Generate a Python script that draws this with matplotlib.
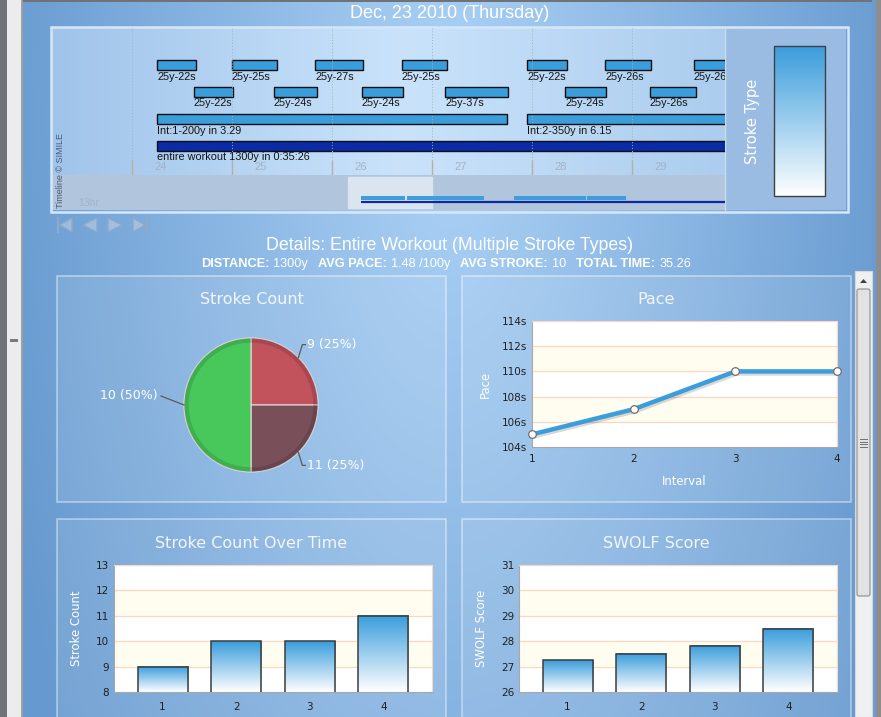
import numpy as np
import matplotlib
matplotlib.use("Agg")
import matplotlib.pyplot as plt
import matplotlib.patheffects as pe
from matplotlib.patches import Rectangle, Polygon, Wedge, FancyBboxPatch

W, H = 881, 717

# ---- data ----
title_date = "Dec, 23 2010 (Thursday)"
details_title = "Details: Entire Workout (Multiple Stroke Types)"
distance_y = 1300
avg_pace = "1.48"
avg_stroke = 10
total_time = "35.26"

# timeline, in minutes
tl_ticks = [24, 25, 26, 27, 28, 29]
lap1_start = [24.25, 25.00, 25.83, 26.70, 27.95, 28.73, 29.62]
lap1_end = [24.64, 25.45, 26.31, 27.15, 28.35, 29.19, 30.08]
lap1_label = ["25y-22s", "25y-25s", "25y-27s", "25y-25s", "25y-22s", "25y-26s", "25y-26s"]
lap2_start = [24.62, 25.42, 26.30, 27.13, 28.33, 29.18]
lap2_end = [25.01, 25.85, 26.71, 27.76, 28.74, 29.64]
lap2_label = ["25y-22s", "25y-24s", "25y-24s", "25y-37s", "25y-24s", "25y-26s"]
int_start = [24.25, 27.95, 36.50, 42.35]
int_end = [27.75, 34.10, 42.25, 45.45]
int_label = ["Int:1-200y in 3.29", "Int:2-350y in 6.15"]
workout_start, workout_end = 24.25, 59.68
workout_label = "entire workout 1300y in 0:35:26"

intervals = [1, 2, 3, 4]
stroke_count = [9, 10, 10, 11]
pace_sec = [105, 107, 110, 110]
swolf = [27.25, 27.5, 27.83, 28.5]
pie_values = [9, 11, 10]          # clockwise from 12 o'clock
pie_colors = ["#c2525c", "#79505a", "#48c85a"]

BLUE = "#3a9ddc"
DARK = "#0b2aa6"
SANS = "Liberation Sans"

fig = plt.figure(figsize=(W / 100, H / 100), dpi=100)


def px_axes(x0, y0, x1, y1):
    return fig.add_axes([x0 / W, 1 - y1 / H, (x1 - x0) / W, (y1 - y0) / H])


bg = px_axes(0, 0, W, H)
bg.set_axis_off()


def rect(x0, y0, x1, y1, **kw):
    bg.add_patch(Rectangle((x0, y0), x1 - x0, y1 - y0, **kw))


# page background
yy, xx = np.mgrid[0:H, 0:W]
t = np.sqrt(((xx - 450) / 470.0) ** 2 + ((yy - 120) / 1100.0) ** 2)
t = np.clip(t, 0, 1)[..., None]
light = np.array([172, 210, 246]) / 255
dark = np.array([102, 153, 207]) / 255
bg.imshow(light + (dark - light) * t, extent=(0, W, H, 0), aspect="auto", zorder=0)

# browser chrome
rect(0, 0, W, 2, fc="#6f7377", ec="none")
rect(0, 0, 7, H, fc="#707378", ec="none")
rect(7, 0, 21, H, fc="#ececec", ec="none")
rect(21, 0, 23, H, fc="#a0a0a0", ec="none")
rect(10, 339, 18, 342, fc="#7a7a7a", ec="none")
rect(872, 0, 876, H, fc="#6a9bd0", ec="none")
rect(876, 0, W, H, fc="#8d8d8d", ec="none")
rect(855, 271, 872, H, fc="#f0f0f0", ec="#d8d8d8", lw=0.8)
bg.add_patch(Polygon([(860, 283), (867, 283), (863.5, 279)], fc="#404040", ec="none"))
bg.add_patch(FancyBboxPatch((857, 289), 13, 307, boxstyle="round,pad=0,rounding_size=2",
                            fc="#e2e2e2", ec="#8c8c8c", lw=0.8))
for gy in [439, 441.5, 444, 446.5]:
    bg.plot([860, 867], [gy, gy], color="#707070", lw=0.7)

# header
bg.text(450, 14, title_date, fontsize=13, family=SANS, color="white", ha="center", va="center")

# ---- timeline ----
gx = np.linspace(0, 1, 300)
c_l, c_m, c_r = np.array([160, 196, 234]), np.array([202, 227, 251]), np.array([172, 205, 238])
grad_h = np.where(gx[:, None] < 0.52,
                  c_l + (c_m - c_l) * (gx[:, None] / 0.52),
                  c_m + (c_r - c_m) * ((gx[:, None] - 0.52) / 0.48)) / 255
bg.imshow(grad_h[None, :, :], extent=(52, 725, 175, 28), aspect="auto", zorder=1)
rect(52, 175, 725, 210, fc="#b1c5dc", ec="none", zorder=1)
rect(725, 28, 846, 210, fc="#9bbce2", ec="none", zorder=1)
bg.plot([725, 725], [28, 210], color="#c8dcf0", lw=1, zorder=2)
rect(51, 27, 848, 212, fc="none", ec="#d6e7f8", lw=1.8, zorder=3)

bg.text(752, 121, "Stroke Type", rotation=90, fontsize=10.5, color="white",
        ha="center", va="center", zorder=3)
grad_v = (np.array([58, 157, 220]) + (np.array([255, 255, 255]) - np.array([58, 157, 220]))
          * np.linspace(0, 1, 200)[:, None]) / 255
bg.imshow(grad_v[:, None, :], extent=(774, 825, 196, 46), aspect="auto", zorder=3)
rect(774, 46, 825, 196, fc="none", ec="#404040", lw=1, zorder=4)

bg.text(60.5, 170, "Timeline \u00a9 SIMILE", rotation=90, fontsize=6.5, family=SANS,
        color="#4a5a7a", ha="center", va="center", zorder=3)
bg.text(78, 203, "13hr", fontsize=7.5, family=SANS, color="#a2b4cc", va="center", zorder=3)

# nav buttons
nav = dict(fc=(0.78, 0.84, 0.92, 0.5), ec="#93a8c4", lw=1, zorder=3)
bg.add_patch(Polygon([(72, 218), (72, 232), (60, 225)], **nav))
bg.plot([58, 58], [218, 232], color="#93a8c4", lw=1.5, zorder=3)
bg.add_patch(Polygon([(97, 218), (97, 232), (83, 225)], **nav))
bg.add_patch(Polygon([(108, 218), (108, 232), (122, 225)], **nav))
bg.add_patch(Polygon([(133, 218), (133, 232), (145, 225)], **nav))
bg.plot([147, 147], [218, 232], color="#93a8c4", lw=1.5, zorder=3)

ax_tl = px_axes(52, 28, 725, 175)
ax_tl.set_axis_off()
ax_tl.set_xlim(23.2, 29.93)
ax_tl.set_ylim(175, 28)
ax_tl.vlines(tl_ticks, 28, 160, colors="#a4b2c2", linestyles=(0, (1, 2)), lw=0.7)
ax_tl.vlines(tl_ticks, 160, 175, colors="#b8aea6", lw=1)
for m in tl_ticks:
    ax_tl.annotate(str(m), (m, 167), xytext=(16, 0), textcoords="offset points",
                   fontsize=8, family=SANS, color="#a6b2c2", va="center")


def tl_row(starts, ends, labels, yc, color):
    ax_tl.barh(yc, np.array(ends) - np.array(starts), left=starts, height=10,
               color=color, edgecolor="#101010", lw=1)
    for s, lab in zip(starts, labels):
        ax_tl.text(s, yc + 11.5, lab, fontsize=7.8, family=SANS, color="#141414",
                   va="center", clip_on=True)


tl_row(lap1_start, lap1_end, lap1_label, 65, BLUE)
tl_row(lap2_start, lap2_end, lap2_label, 92, BLUE)
tl_row(int_start, int_end, int_label, 119, BLUE)
tl_row([workout_start], [workout_end], [workout_label], 146, DARK)

ax_ov = px_axes(52, 175, 725, 210)
ax_ov.set_axis_off()
ax_ov.set_xlim(-0.48, 53.36)
ax_ov.set_ylim(210, 175)
ax_ov.axvspan(23.2, 29.93, ymin=0.06, ymax=0.94, color="#dae5f0")
for s, e in zip(int_start, int_end):
    ax_ov.hlines([196.5, 199.3], s, e, colors=BLUE, lw=1.4)
ax_ov.hlines(202, workout_start, workout_end, colors=DARK, lw=1.6)

# ---- details header ----
bg.text(450, 245, details_title, fontsize=12.8, family=SANS, color="white", ha="center", va="center")
pieces = [("DISTANCE:", True), (f"{distance_y}y", False), ("AVG PACE:", True),
          (f"{avg_pace} /100y", False), ("AVG STROKE:", True), (f"{avg_stroke}", False),
          ("TOTAL TIME:", True), (total_time, False)]
renderer = fig.canvas.get_renderer()
bg.set_xlim(0, W)
bg.set_ylim(H, 0)
txts, widths = [], []
for s, b in pieces:
    tt = bg.text(0, 264, s, fontsize=9.2, family=SANS, weight="bold" if b else "normal",
                 color="white", va="center", ha="left")
    txts.append(tt)
    widths.append(tt.get_window_extent(renderer).width)
gaps = [4 if b else 10 for s, b in pieces]
x = 446 - (sum(widths) + sum(gaps[:-1])) / 2
for tt, w, g in zip(txts, widths, gaps):
    tt.set_x(x)
    x += w + g

# ---- panels ----
panels = [(57, 276, 446, 502, "Stroke Count"), (462, 276, 851, 502, "Pace"),
          (57, 519, 446, 730, "Stroke Count Over Time"), (462, 519, 851, 730, "SWOLF Score")]
for x0, y0, x1, y1, name in panels:
    rect(x0, y0, x1, y1, fc=(1, 1, 1, 0.10), ec=(1, 1, 1, 0.45), lw=1.2)
    bg.text((x0 + x1) / 2, y0 + 24, name, fontsize=11.5, color="#f2f6fa", ha="center", va="center")


def style_plot(ax, lo, hi, step):
    ax.set_facecolor("white")
    edges = np.arange(lo, hi + step / 2, step)
    for i in range(len(edges) - 1):
        if i % 2 == 1:
            ax.axhspan(edges[i], edges[i + 1], color="#fffdf0", zorder=0)
    for e in edges[1:]:
        ax.axhline(e, color="#ffd7c0", lw=0.9, zorder=1)
    ax.set_ylim(lo, hi)
    ax.set_yticks(edges)
    for sp in ["left", "bottom"]:
        ax.spines[sp].set_color("#a8a8a8")
    for sp in ["top", "right"]:
        ax.spines[sp].set_color("#f5d8c8")
    ax.tick_params(length=0, labelsize=7.5, labelcolor="#202020")


# pie
ax_pie = px_axes(184, 338, 318, 472)
counts = [stroke_count.count(v) for v in pie_values]
shares = [c / len(stroke_count) for c in counts]
wedges, _ = ax_pie.pie(shares, colors=pie_colors, startangle=90, counterclock=False, radius=1,
                       wedgeprops=dict(edgecolor="#e4dcdc", linewidth=0.8))
for w in wedges:
    ax_pie.add_patch(Wedge((0, 0), 1, w.theta1, w.theta2, width=0.07, fc=(0, 0, 0, 0.13), ec="none"))
ax_pie.set_xlim(-1, 1)
ax_pie.set_ylim(-1, 1)
ax_pie.set_axis_off()
r_px = 67.0
for w, v, sh in zip(wedges, pie_values, shares):
    a = np.deg2rad((w.theta1 + w.theta2) / 2)
    sx, sy = np.cos(a), np.sin(a)
    if sx > 0.1:
        ex, ey = sx + 4 / r_px, sy + np.sign(sy) * 13 / r_px
        lx, ha = ex + 5 / r_px, "left"
        pts_x, pts_y = [sx, ex, ex + 3 / r_px], [sy, ey, ey]
    else:
        ex, ey = sx - 23 / r_px, sy + 9 / r_px
        lx, ha = ex - 3 / r_px, "right"
        pts_x, pts_y = [sx, ex], [sy, ey]
    ax_pie.plot(pts_x, pts_y, color="#5a5a5a", lw=0.9, clip_on=False)
    ax_pie.text(lx, ey, f"{v} ({sh * 100:.0f}%)", fontsize=9, color="white",
                ha=ha, va="center", clip_on=False)

# pace line
ax_p = px_axes(532, 321, 837, 447)
style_plot(ax_p, 104, 114, 2)
ax_p.plot(intervals, pace_sec, color=BLUE, lw=3.2, zorder=3, solid_capstyle="round",
          path_effects=[pe.SimpleLineShadow(offset=(1, -1.5), alpha=0.15), pe.Normal()])
ax_p.plot(intervals, pace_sec, "o", ms=5.5, mfc="white", mec="#707070", mew=0.9,
          zorder=4, clip_on=False)
ax_p.set_xlim(intervals[0], intervals[-1])
ax_p.set_xticks(intervals)
ax_p.set_yticklabels([f"{v:.0f}s" for v in ax_p.get_yticks()])
ax_p.tick_params(axis="x", pad=5)
ax_p.set_xlabel("Interval", color="white", fontsize=8.4, labelpad=8)
ax_p.set_ylabel("Pace", color="white", fontsize=8.4, labelpad=7)

grad_bar = (np.array([58, 157, 220]) + (np.array([255, 255, 255]) - np.array([58, 157, 220]))
            * np.linspace(0, 1, 100)[:, None]) / 255


def gradient_bars(ax, xs, vals, lo, hi):
    bars = ax.bar(xs, vals, width=0.68, facecolor="none", edgecolor="#3c3c3c", lw=1.1, zorder=3)
    for b in bars:
        x0, w = b.get_x(), b.get_width()
        ax.imshow(grad_bar[:, None, :], extent=(x0, x0 + w, lo, b.get_height()),
                  aspect="auto", zorder=2)
    ax.set_xlim(0.34, 4.66)
    ax.set_ylim(lo, hi)
    ax.set_xticks(xs)
    ax.tick_params(axis="x", pad=7)


ax_sc = px_axes(114, 565, 432, 692)
style_plot(ax_sc, 8, 13, 1)
gradient_bars(ax_sc, intervals, stroke_count, 8, 13)
ax_sc.set_ylabel("Stroke Count", color="white", fontsize=8.4, labelpad=9)

ax_sw = px_axes(519, 565, 837, 692)
style_plot(ax_sw, 26, 31, 1)
gradient_bars(ax_sw, intervals, swolf, 26, 31)
ax_sw.set_ylabel("SWOLF Score", color="white", fontsize=8.4, labelpad=9)

bg.set_xlim(0, W)
bg.set_ylim(H, 0)
fig.savefig("out.png", dpi=100)
